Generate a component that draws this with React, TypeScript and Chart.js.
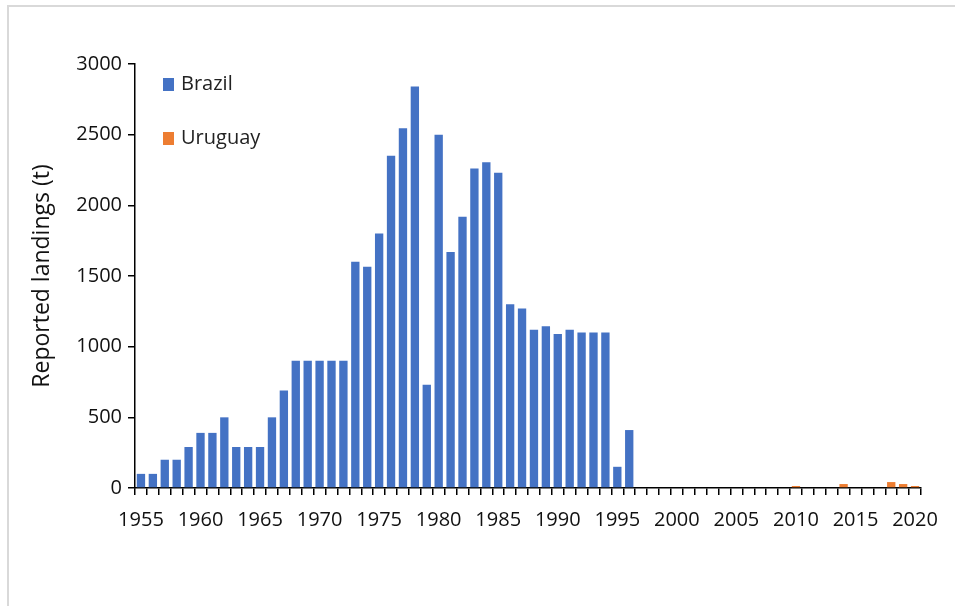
import React, { useEffect, useRef } from 'react';
import { Chart, registerables } from 'chart.js';

Chart.register(...registerables);

const years: string[] = [
  '1955', '1956', '1957', '1958', '1959', '1960', '1961', '1962', '1963', '1964',
  '1965', '1966', '1967', '1968', '1969', '1970', '1971', '1972', '1973', '1974',
  '1975', '1976', '1977', '1978', '1979', '1980', '1981', '1982', '1983', '1984',
  '1985', '1986', '1987', '1988', '1989', '1990', '1991', '1992', '1993', '1994',
  '1995', '1996', '1997', '1998', '1999', '2000', '2001', '2002', '2003', '2004',
  '2005', '2006', '2007', '2008', '2009', '2010', '2011', '2012', '2013', '2014',
  '2015', '2016', '2017', '2018', '2019', '2020',
];

const brazil: (number | null)[] = [
  100, 100, 200, 200, 290, 390, 390, 500, 290, 290,
  290, 500, 690, 900, 900, 900, 900, 900, 1600, 1565,
  1800, 2350, 2545, 2840, 730, 2500, 1670, 1920, 2260, 2305,
  2230, 1300, 1270, 1120, 1145, 1090, 1120, 1100, 1100, 1100,
  150, 410, null, null, null, null, null, null, null, null,
  null, null, null, null, null, null, null, null, null, null,
  null, null, null, null, null, null,
];

const uruguay: (number | null)[] = [
  null, null, null, null, null, null, null, null, null, null,
  null, null, null, null, null, null, null, null, null, null,
  null, null, null, null, null, null, null, null, null, null,
  null, null, null, null, null, null, null, null, null, null,
  null, null, null, null, null, null, null, null, null, null,
  null, null, null, null, null, 14, null, null, null, 28,
  null, null, null, 42, 28, 14,
];

const yTicks: number[] = [0, 500, 1000, 1500, 2000, 2500, 3000];

const BLUE = '#4472C4';
const ORANGE = '#ED7D31';
const FONT = "'Open Sans', sans-serif";

const framePlugin = {
  id: 'frame',
  beforeDraw(chart: any) {
    const ctx = chart.ctx;
    ctx.save();
    ctx.fillStyle = '#ffffff';
    ctx.fillRect(0, 0, chart.width, chart.height);
    ctx.fillStyle = '#d9d9d9';
    ctx.fillRect(7, 5, 2, chart.height - 5);
    ctx.fillRect(7, 5, chart.width - 7, 2);
    ctx.restore();
  },
};

const legendPlugin = {
  id: 'insideLegend',
  afterDraw(chart: any) {
    const ctx = chart.ctx;
    const { left, top } = chart.chartArea;
    const items = [
      { label: chart.data.datasets[0].label, color: BLUE, y: top + 20 },
      { label: chart.data.datasets[1].label, color: ORANGE, y: top + 74 },
    ];
    ctx.save();
    ctx.font = `20px ${FONT}`;
    ctx.textBaseline = 'middle';
    ctx.textAlign = 'left';
    items.forEach((it) => {
      ctx.fillStyle = it.color;
      ctx.fillRect(left + 28, it.y - 6, 11, 13);
      ctx.fillStyle = '#222222';
      ctx.fillText(it.label, left + 46, it.y);
    });
    ctx.restore();
  },
};

export default function App() {
  const ref = useRef<HTMLCanvasElement | null>(null);

  useEffect(() => {
    document.body.style.margin = '0';
    const canvas = ref.current;
    if (!canvas) return;
    const chart = new Chart(canvas, {
      type: 'bar',
      data: {
        labels: years,
        datasets: [
          { label: 'Brazil', data: brazil, backgroundColor: BLUE, borderWidth: 0 },
          { label: 'Uruguay', data: uruguay, backgroundColor: ORANGE, borderWidth: 0 },
        ],
      },
      options: {
        animation: false,
        responsive: false,
        maintainAspectRatio: false,
        layout: { padding: { left: 0, top: 64, right: 34, bottom: 0 } },
        datasets: { bar: { barPercentage: 1, categoryPercentage: 0.7 } },
        plugins: {
          legend: { display: false },
          tooltip: { enabled: false },
        },
        scales: {
          x: {
            stacked: true,
            offset: true,
            grid: {
              offset: true,
              drawOnChartArea: false,
              drawTicks: true,
              tickLength: 7,
              color: '#000000',
              lineWidth: 1.5,
            },
            border: { color: '#000000', width: 1.5 },
            ticks: {
              autoSkip: false,
              maxRotation: 0,
              minRotation: 0,
              padding: 13,
              color: '#111111',
              font: { family: FONT, size: 20 },
              callback: (_v: any, i: number) => (Number(years[i]) % 5 === 0 ? years[i] : ''),
            },
            afterFit: (s: any) => {
              s.height = 118;
            },
          },
          y: {
            stacked: true,
            min: 0,
            max: 3000,
            afterBuildTicks: (s: any) => {
              s.ticks = yTicks.map((v) => ({ value: v }));
            },
            grid: {
              drawOnChartArea: false,
              drawTicks: true,
              tickLength: 7,
              color: '#000000',
              lineWidth: 1.5,
            },
            border: { color: '#000000', width: 1.5 },
            ticks: {
              padding: 6,
              color: '#111111',
              font: { family: FONT, size: 20 },
              callback: (v: any) => String(v),
            },
            title: {
              display: true,
              text: 'Reported landings (t)',
              color: '#111111',
              font: { family: FONT, size: 23 },
              padding: { top: 29, bottom: 0 },
            },
            afterFit: (s: any) => {
              s.width = 135;
            },
          },
        },
      },
      plugins: [framePlugin, legendPlugin],
    } as any);
    return () => chart.destroy();
  }, []);

  return (
    <div style={{ width: 955, height: 606 }}>
      <canvas ref={ref} width={955} height={606} style={{ display: 'block', width: 955, height: 606 }} />
    </div>
  );
}
